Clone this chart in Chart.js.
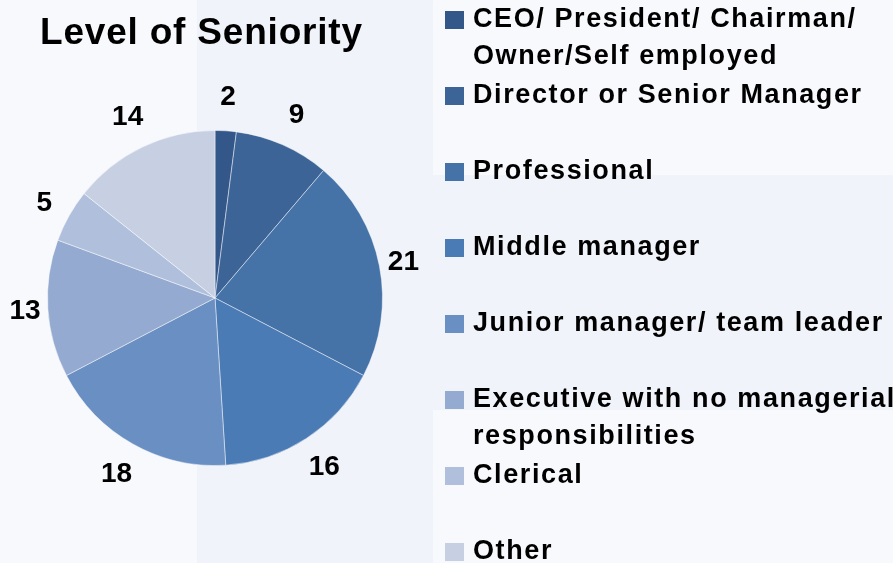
<!DOCTYPE html>
<html>
<head>
<meta charset="utf-8">
<script src="https://cdn.jsdelivr.net/npm/chart.js@4"></script>
<style>
  html, body { margin: 0; padding: 0; }
  body {
    width: 893px; height: 563px; position: relative; overflow: hidden;
    background: #f8f9fc;
    font-family: "Liberation Sans", Arial, sans-serif;
  }
  .panel { position: absolute; background: #f0f3f9; }
  #chartBox { position: absolute; left: 0; top: 0; width: 893px; height: 563px; }
  #title {
    position: absolute; left: 40px; top: 13px;
    font-size: 37px; font-weight: bold; line-height: 1; color: #000; letter-spacing: 0.8px;
  }
  #legend { position: absolute; left: 445px; top: 0; margin: 0; padding: 0; list-style: none; }
  #legend li { position: relative; height: 76px; padding-left: 28px; font-size: 27px; font-weight: bold; line-height: 37px; color: #000; white-space: nowrap; letter-spacing: 1.6px; }
  #legend li span.box { position: absolute; left: 0; top: 11px; width: 19px; height: 18px; }
</style>
</head>
<body>
<div class="panel" style="left:197px;top:0;width:236px;height:563px"></div>
<div class="panel" style="left:433px;top:175px;width:460px;height:235px"></div>
<div id="chartBox"><canvas id="pieChart"></canvas></div>
<div id="title">Level of Seniority</div>
<ul id="legend"></ul>
<script>
// Chart data
const categories = [
  ['CEO/ President/ Chairman/', 'Owner/Self employed'],
  ['Director or Senior Manager'],
  ['Professional'],
  ['Middle manager'],
  ['Junior manager/ team leader'],
  ['Executive with no managerial', 'responsibilities'],
  ['Clerical'],
  ['Other']
];
const values = [2, 9, 21, 16, 18, 13, 5, 14];
const sliceColors = ['#34578a', '#3d6496', '#4572a7', '#4a7bb5', '#6a8fc2', '#94aad0', '#b0c0dc', '#c7d0e3'];

// Draw the value next to each slice
const outsideLabels = {
  id: 'outsideLabels',
  afterDatasetsDraw(chart) {
    const ctx = chart.ctx;
    const meta = chart.getDatasetMeta(0);
    ctx.save();
    ctx.font = 'bold 28px "Liberation Sans", Arial, sans-serif';
    ctx.fillStyle = '#000';
    ctx.textAlign = 'center';
    ctx.textBaseline = 'middle';
    meta.data.forEach((arc, i) => {
      const p = arc.getProps(['x', 'y', 'startAngle', 'endAngle', 'outerRadius'], true);
      const mid = (p.startAngle + p.endAngle) / 2;
      const r = p.outerRadius + 22 + 13 * Math.abs(Math.sin(mid));
      ctx.fillText(String(values[i]), p.x + r * Math.cos(mid), p.y + r * Math.sin(mid) + 1);
    });
    ctx.restore();
  }
};

const pieChart = new Chart(document.getElementById('pieChart'), {
  type: 'pie',
  data: {
    labels: categories.map(c => c.join(' ')),
    datasets: [{
      data: values,
      backgroundColor: sliceColors,
      borderColor: 'rgba(255,255,255,0.45)',
      borderWidth: 1
    }]
  },
  options: {
    responsive: true,
    maintainAspectRatio: false,
    animation: false,
    layout: { padding: { left: 47, right: 510, top: 130, bottom: 97 } },
    plugins: {
      legend: { display: false },
      tooltip: { enabled: false }
    }
  },
  plugins: [outsideLabels]
});

// HTML legend built from the chart data
const legendEl = document.getElementById('legend');
categories.forEach((lines, i) => {
  const li = document.createElement('li');
  const box = document.createElement('span');
  box.className = 'box';
  box.style.background = sliceColors[i];
  li.appendChild(box);
  lines.forEach((line, j) => {
    if (j > 0) li.appendChild(document.createElement('br'));
    li.appendChild(document.createTextNode(line));
  });
  legendEl.appendChild(li);
});
</script>
</body>
</html>
